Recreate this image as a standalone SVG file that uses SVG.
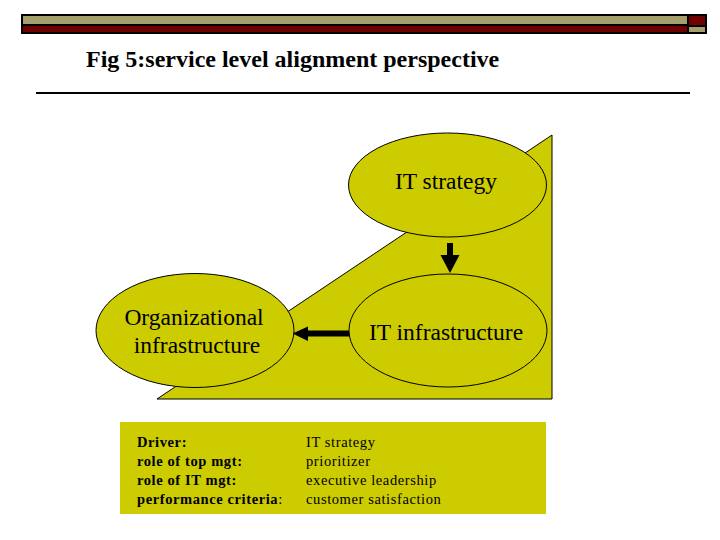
<svg xmlns="http://www.w3.org/2000/svg" width="720" height="540" viewBox="0 0 720 540">
<style>
.node{fill:#CCCC00;stroke:#000;stroke-width:1}
.lbl{font-family:"Liberation Serif","Times New Roman",serif;font-size:23.5px;fill:#000;text-anchor:middle}
.tb{font-family:"Liberation Serif","Times New Roman",serif;font-size:14.5px;letter-spacing:0.6px;fill:#000}
.b{font-weight:bold}
.arrow{fill:#000;stroke:none}
</style>
<rect width="720" height="540" fill="#fff"/>
<g id="header">
<rect x="21" y="14" width="686" height="20" fill="#000"/>
<rect x="23" y="16" width="664" height="8" fill="#A39F6F"/>
<rect x="23" y="26" width="664" height="6" fill="#6E0000"/>
<rect x="689" y="16" width="16" height="9" fill="#6E0000"/>
<rect x="689" y="27" width="16" height="5" fill="#A39F6F"/>
</g>
<text id="title" x="86" y="67" font-family="Liberation Serif, 'Times New Roman', serif" font-size="24" font-weight="bold">Fig 5:service level alignment perspective</text>
<line x1="36" y1="93" x2="690" y2="93" stroke="#000" stroke-width="2"/>
<polygon id="background" points="157,399 552,135 552,399" fill="#CCCC00" stroke="#000" stroke-width="1"/>
<g id="connectors">
<polygon class="arrow" points="447,243 453,243 453,255 459.5,255 450,273 440.5,255 447,255"/>
<polygon class="arrow" points="359,330.5 359,336.5 308,336.5 308,341 292.5,333.5 308,326.5 308,330.5"/>
</g>
<g id="it-strategy">
<ellipse class="node" cx="447.5" cy="185" rx="99" ry="52"/>
<text class="lbl" x="446" y="189">IT strategy</text>
</g>
<g id="it-infrastructure">
<ellipse class="node" cx="448" cy="330.5" rx="99" ry="56.5"/>
<text class="lbl" x="446" y="340">IT infrastructure</text>
</g>
<g id="org-infrastructure">
<ellipse class="node" cx="195" cy="330.5" rx="99" ry="57"/>
<text class="lbl" x="194" y="325">Organizational</text>
<text class="lbl" x="197" y="353">infrastructure</text>
</g>
<g id="info-box">
<rect x="120" y="422" width="426" height="92" fill="#CCCC00"/>
<text class="tb b" x="137" y="447">Driver:</text>
<text class="tb b" x="137" y="466">role of top mgt:</text>
<text class="tb b" x="137" y="485">role of IT mgt:</text>
<text class="tb" x="137" y="504"><tspan class="b">performance criteria</tspan>:</text>
<text class="tb" x="306" y="447">IT strategy</text>
<text class="tb" x="306" y="466">prioritizer</text>
<text class="tb" x="306" y="485">executive leadership</text>
<text class="tb" x="306" y="504">customer satisfaction</text>
</g>
</svg>
